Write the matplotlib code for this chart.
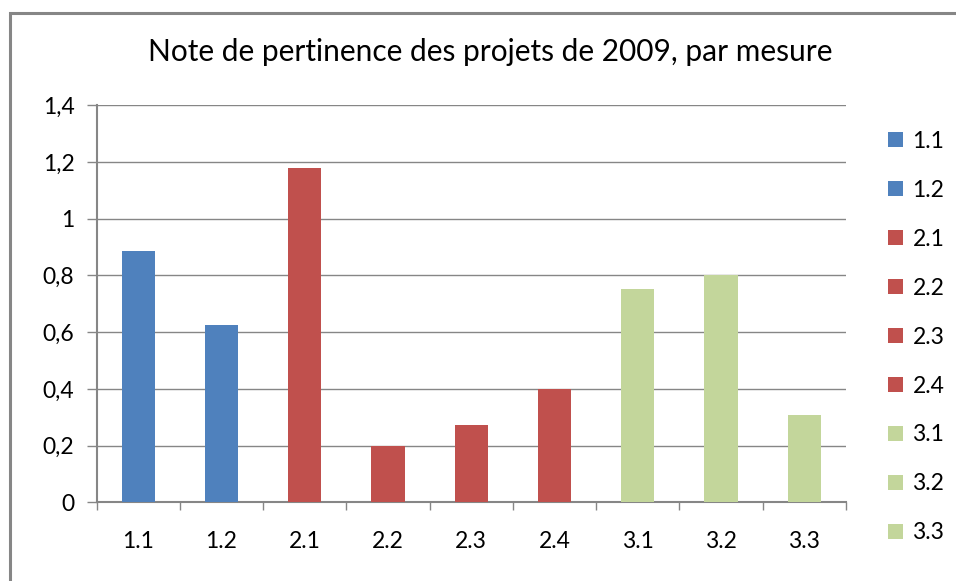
import matplotlib.pyplot as plt
from matplotlib.patches import Rectangle
import numpy as np

plt.rcParams['font.family'] = ['Lato', 'DejaVu Sans']

# donnees
mesures = ["1.1", "1.2", "2.1", "2.2", "2.3", "2.4", "3.1", "3.2", "3.3"]
notes = [0.886, 0.625, 1.179, 0.2, 0.273, 0.40, 0.752, 0.80, 0.308]
couleurs = ["#4F81BD", "#4F81BD", "#C0504D", "#C0504D", "#C0504D", "#C0504D",
            "#C3D69B", "#C3D69B", "#C3D69B"]
yticks = [0, 0.2, 0.4, 0.6, 0.8, 1.0, 1.2, 1.4]
ylabels = ["0", "0,2", "0,4", "0,6", "0,8", "1", "1,2", "1,4"]

gris = "#868686"

fig = plt.figure(figsize=(9.56, 5.81), dpi=100)
ax = fig.add_axes([0.1011, 0.1355, 0.7836, 0.6833])

x = np.arange(len(mesures))
bars = ax.bar(x, notes, width=0.4, color=couleurs, zorder=3)

ax.set_xlim(-0.5, len(mesures) - 0.5)
ax.set_ylim(0, 1.4)
ax.set_yticks(yticks)
ax.set_yticklabels(ylabels)
ax.set_xticks(x)
ax.set_xticklabels(mesures)
ax.set_xticks(np.arange(-0.5, len(mesures)), minor=True)

ax.grid(axis="y", color=gris, linewidth=1.0, zorder=0)
ax.tick_params(axis="y", direction="out", length=7, width=1, color=gris,
               pad=9, labelsize=16.5)
ax.tick_params(axis="x", which="major", length=0, pad=21, labelsize=16.5)
ax.tick_params(axis="x", which="minor", direction="out", length=6, width=1, color=gris)

for s in ["top", "right"]:
    ax.spines[s].set_visible(False)
for s in ["left", "bottom"]:
    ax.spines[s].set_color(gris)
    ax.spines[s].set_linewidth(1.5)

# titre centre sur tout le graphique (legende comprise)
fig.text(490 / 956, 1 - 52 / 581, "Note de pertinence des projets de 2009, par mesure",
         fontsize=21.5, ha="center", va="center")

fig.legend(list(bars), mesures, loc="upper left", bbox_to_anchor=(0.929, 0.775),
           frameon=False, fontsize=16.5, handlelength=0.66, handleheight=0.66,
           handletextpad=0.4, labelspacing=1.22, borderpad=0, borderaxespad=0)

# cadre du graphique
fig.patches.append(Rectangle((9.5 / 956, -0.1), 1.2, 1 - 13 / 581 + 0.1,
                             transform=fig.transFigure, fill=False,
                             edgecolor=gris, linewidth=2.2))

fig.savefig("out.png", dpi=100)
